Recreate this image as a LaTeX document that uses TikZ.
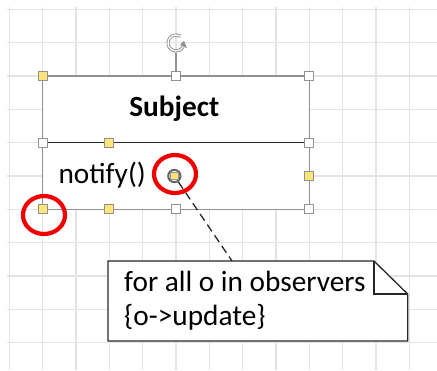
\documentclass[tikz,border=0pt]{standalone}
\usepackage{fontspec}
\setmainfont{Carlito}
\usepackage{tikz}
\usetikzlibrary{arrows}
\definecolor{jaune}{RGB}{255,228,122}
\definecolor{grille}{RGB}{228,228,228}
\definecolor{bord}{RGB}{145,145,145}
\definecolor{rouge}{RGB}{240,0,0}
\newcommand{\grand}{\fontsize{25}{29}\selectfont}
\tikzset{
  poignee/.style={draw=bord, line width=0.8pt, minimum size=7.5pt, inner sep=0pt, fill=white},
  pjaune/.style={poignee, fill=jaune},
  cercle/.style={draw=rouge, line width=3.6pt},
}

\begin{document}
\begin{tikzpicture}
\useasboundingbox (-0.28,0.28) rectangle (12.83,-10.82);
% grille
\draw[grille, line width=1.1pt] (-0.07,-10.82) grid (12.83,0.07);
% classe
\draw[bord, line width=1.1pt, fill=white] (1,-2) rectangle (9,-6);
\draw[black!85, line width=1.1pt] (1,-4) -- (9,-4);
\node[anchor=base, inner sep=0pt] (titre) at (4.95,-3.2) {\grand\bfseries Subject};
\node[anchor=base west, inner sep=0pt] (op) at (1.47,-5.22) {\grand notify()};
% rotation
\node[minimum size=0.56cm, inner sep=0pt] (rot) at (5,-1.01) {};
\draw[bord, double=white, double distance=1.1pt, line width=0.8pt] ([shift={(55:0.24)}]rot.center) arc (55:335:0.24);
\fill[bord] ([shift={(335:0.13)}]rot.center) -- ([shift={(335:0.36)}]rot.center) -- ([shift={(15:0.25)}]rot.center) -- cycle;
% poignees
\node[pjaune] (p1) at (1,-2) {};
\node[poignee] (p2) at (5,-2) {};
\node[poignee] (p3) at (9,-2) {};
\node[poignee] (p4) at (1,-4) {};
\node[pjaune] (p5) at (3,-4) {};
\node[poignee] (p6) at (9,-4) {};
\node[pjaune] (p7) at (9,-5) {};
\node[pjaune] (p8) at (1,-6) {};
\node[pjaune] (p9) at (3,-6) {};
\node[poignee] (p10) at (5,-6) {};
\node[poignee] (p11) at (9,-6) {};
\draw[bord, line width=1.1pt] (rot) -- (p2);
\node[circle, draw=black!60, line width=1.7pt, minimum size=10.5pt, inner sep=0pt] (centre) at (4.95,-5) {};
\node[pjaune, minimum size=6.5pt] at (centre) {};
% note
\draw[black!85, line width=1.1pt, fill=white] (2.96,-7.55) -- (10.94,-7.55) -- (11.95,-8.54) -- (11.95,-9.95) -- (2.96,-9.95) -- cycle;
\draw[black!85, line width=1.1pt] (10.94,-7.55) -- (10.94,-8.54) -- (11.95,-8.54);
\coordinate (coin) at (6.68,-7.55);
\node[anchor=base west, inner sep=0pt] (ligne1) at (3.44,-8.45) {\grand for all o in observers};
\node[anchor=base west, inner sep=0pt] (ligne2) at (3.44,-9.47) {\grand \{o->update\}};
\draw[black!85, line width=1.1pt, dash pattern=on 7pt off 4pt] (centre) -- (coin);
% cercles rouges
\draw[cercle] (4.97,-4.94) ellipse (0.63 and 0.57);
\draw[cercle] (1.04,-6.17) ellipse (0.63 and 0.57);
\end{tikzpicture}
\end{document}
